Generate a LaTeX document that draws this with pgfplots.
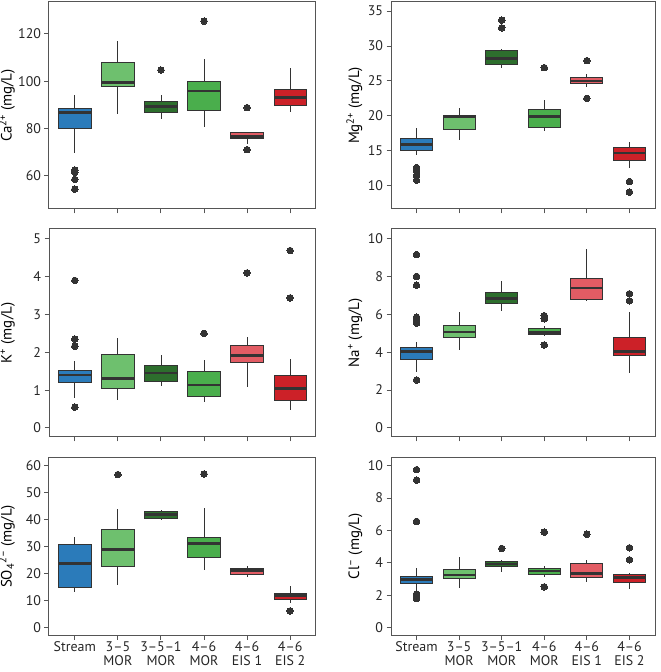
\documentclass[border=0pt]{standalone}
\usepackage{fontspec}
\setmainfont{PT Sans}
\usepackage{pgfplots}
\pgfplotsset{compat=1.18}
\usepgfplotslibrary{statistics}
\definecolor{cStream}{RGB}{43,123,186}
\definecolor{cMORa}{RGB}{110,192,110}
\definecolor{cMORb}{RGB}{45,110,45}
\definecolor{cMORc}{RGB}{74,174,76}
\definecolor{cEISa}{RGB}{226,92,100}
\definecolor{cEISb}{RGB}{204,33,40}
\definecolor{dark}{RGB}{51,51,51}
\definecolor{frame}{RGB}{85,85,85}

\pgfplotsset{
  panel/.style={
    scale only axis, anchor=south west,
    xmin=-0.6, xmax=5.6, xtick={0,...,5},
    axis line style={draw=frame, line width=1bp},
    tick style={draw=frame, line width=1bp},
    tick align=outside, major tick length=4.5bp,
    xtick pos=bottom, ytick pos=left,
    xticklabels={},
    /pgf/number format/assume math mode=true,
    tick label style={font=\fontsize{14}{15}\selectfont, text=black!85},
    ylabel style={font=\fontsize{15}{16}\selectfont, anchor=south, inner sep=0pt},
  },
  leftp/.style={panel, width=267bp, ylabel style={at={(axis description cs:-0.127,0.5)}}},
  rightp/.style={panel, width=264bp, ylabel style={at={(axis description cs:-0.108,0.5)}}},
  bottomrow/.style={
    xticklabels={Stream,{3–5\\MOR},{3–5–1\\MOR},{4–6\\MOR},{4–6\\EIS 1},{4–6\\EIS 2}},
    xticklabel style={align=center, font=\fontsize{14}{14}\selectfont, inner sep=1bp, yshift=-1bp},
  },
  bx/.style={
    draw=dark, line width=0.9bp,
    mark=*, mark size=3.3bp, mark options={fill=dark, draw=dark, line width=0bp},
    boxplot/draw direction=y,
    boxplot/box extend=0.75, boxplot/whisker extend=0,
    boxplot/every box/.style={fill=#1, draw=dark, line width=0.9bp},
    boxplot/every whisker/.style={draw=dark, line width=0.9bp},
    boxplot/every median/.style={draw=dark, line width=2.6bp},
  },
}

\begin{document}
\begin{tikzpicture}
\useasboundingbox (0,0) rectangle (661bp,672bp);

% Ca
\begin{axis}[leftp, at={(49bp,463bp)}, height=207bp,
  ymin=45.9, ymax=133.5, ytick={60,80,100,120},
  ylabel={Ca\textsuperscript{2+} (mg/L)}]
\addplot[bx=cStream, boxplot prepared={draw position=0, lower whisker=69.4, lower quartile=80, median=86.8, upper quartile=88.6, upper whisker=94.3}] coordinates {(0,62.4) (0,61.4) (0,58.4) (0,54.3)};
\addplot[bx=cMORa, boxplot prepared={draw position=1, lower whisker=86.0, lower quartile=97.9, median=99.4, upper quartile=107.8, upper whisker=117.1}] coordinates {};
\addplot[bx=cMORb, boxplot prepared={draw position=2, lower whisker=83.8, lower quartile=86.6, median=89.3, upper quartile=91.4, upper whisker=94.3}] coordinates {(2,104.7)};
\addplot[bx=cMORc, boxplot prepared={draw position=3, lower whisker=80.7, lower quartile=87.4, median=95.9, upper quartile=100, upper whisker=109.5}] coordinates {(3,125.4)};
\addplot[bx=cEISa, boxplot prepared={draw position=4, lower whisker=73.4, lower quartile=75.6, median=76.6, upper quartile=78.2, upper whisker=78.4}] coordinates {(4,88.8) (4,71.0)};
\addplot[bx=cEISb, boxplot prepared={draw position=5, lower whisker=87.1, lower quartile=89.9, median=93.0, upper quartile=96.6, upper whisker=105.4}] coordinates {};
\end{axis}

% Mg
\begin{axis}[rightp, at={(391bp,463bp)}, height=207bp,
  ymin=6.67, ymax=36.3, ytick={10,15,...,35},
  ylabel={Mg\textsuperscript{2+} (mg/L)}]
\addplot[bx=cStream, boxplot prepared={draw position=0, lower whisker=14.4, lower quartile=15.0, median=15.9, upper quartile=16.7, upper whisker=18.2}] coordinates {(0,12.6) (0,12.1) (0,11.5) (0,10.8)};
\addplot[bx=cMORa, boxplot prepared={draw position=1, lower whisker=16.5, lower quartile=18.0, median=19.9, upper quartile=20.1, upper whisker=21.1}] coordinates {};
\addplot[bx=cMORb, boxplot prepared={draw position=2, lower whisker=26.8, lower quartile=27.3, median=28.2, upper quartile=29.3, upper whisker=29.5}] coordinates {(2,33.7) (2,32.6)};
\addplot[bx=cMORc, boxplot prepared={draw position=3, lower whisker=17.8, lower quartile=18.3, median=19.9, upper quartile=20.9, upper whisker=22.3}] coordinates {(3,26.9)};
\addplot[bx=cEISa, boxplot prepared={draw position=4, lower whisker=24.1, lower quartile=24.7, median=25.0, upper quartile=25.5, upper whisker=26.0}] coordinates {(4,27.9) (4,22.5)};
\addplot[bx=cEISb, boxplot prepared={draw position=5, lower whisker=12.6, lower quartile=13.6, median=14.7, upper quartile=15.5, upper whisker=16.2}] coordinates {(5,10.6) (5,9.1)};
\end{axis}

% K
\begin{axis}[leftp, at={(49bp,235bp)}, height=208bp,
  ymin=-0.24, ymax=5.26, ytick={0,...,5},
  ylabel={K\textsuperscript{+} (mg/L)}]
\addplot[bx=cStream, boxplot prepared={draw position=0, lower whisker=0.78, lower quartile=1.19, median=1.40, upper quartile=1.53, upper whisker=1.78}] coordinates {(0,3.9) (0,2.35) (0,2.16) (0,0.55)};
\addplot[bx=cMORa, boxplot prepared={draw position=1, lower whisker=0.75, lower quartile=1.04, median=1.31, upper quartile=1.95, upper whisker=2.37}] coordinates {};
\addplot[bx=cMORb, boxplot prepared={draw position=2, lower whisker=1.11, lower quartile=1.23, median=1.45, upper quartile=1.66, upper whisker=1.92}] coordinates {};
\addplot[bx=cMORc, boxplot prepared={draw position=3, lower whisker=0.69, lower quartile=0.84, median=1.14, upper quartile=1.49, upper whisker=1.79}] coordinates {(3,2.5)};
\addplot[bx=cEISa, boxplot prepared={draw position=4, lower whisker=1.07, lower quartile=1.72, median=1.91, upper quartile=2.17, upper whisker=2.40}] coordinates {(4,4.1)};
\addplot[bx=cEISb, boxplot prepared={draw position=5, lower whisker=0.47, lower quartile=0.72, median=1.04, upper quartile=1.38, upper whisker=1.82}] coordinates {(5,4.69) (5,3.44)};
\end{axis}

% Na
\begin{axis}[rightp, at={(391bp,235bp)}, height=208bp,
  ymin=-0.48, ymax=10.5, ytick={0,2,...,10},
  ylabel={Na\textsuperscript{+} (mg/L)}]
\addplot[bx=cStream, boxplot prepared={draw position=0, lower whisker=2.97, lower quartile=3.62, median=4.03, upper quartile=4.27, upper whisker=4.56}] coordinates {(0,9.15) (0,8.0) (0,7.53) (0,5.85) (0,5.7) (0,5.53) (0,2.53)};
\addplot[bx=cMORa, boxplot prepared={draw position=1, lower whisker=4.12, lower quartile=4.77, median=5.07, upper quartile=5.41, upper whisker=6.1}] coordinates {};
\addplot[bx=cMORb, boxplot prepared={draw position=2, lower whisker=6.18, lower quartile=6.55, median=6.84, upper quartile=7.16, upper whisker=7.77}] coordinates {};
\addplot[bx=cMORc, boxplot prepared={draw position=3, lower whisker=4.88, lower quartile=4.91, median=5.05, upper quartile=5.25, upper whisker=5.39}] coordinates {(3,5.92) (3,5.76) (3,4.38)};
\addplot[bx=cEISa, boxplot prepared={draw position=4, lower whisker=6.68, lower quartile=6.78, median=7.39, upper quartile=7.88, upper whisker=9.47}] coordinates {};
\addplot[bx=cEISb, boxplot prepared={draw position=5, lower whisker=2.92, lower quartile=3.8, median=4.03, upper quartile=4.79, upper whisker=6.1}] coordinates {(5,7.08) (5,6.71)};
\end{axis}

% SO4
\begin{axis}[leftp, bottomrow, at={(49bp,37bp)}, height=177bp,
  ymin=-2.85, ymax=62.85, ytick={0,10,...,60},
  ylabel={SO\textsubscript{4}\textsuperscript{2–} (mg/L)}]
\addplot[bx=cStream, boxplot prepared={draw position=0, lower whisker=13.0, lower quartile=14.75, median=23.7, upper quartile=30.7, upper whisker=33.7}] coordinates {};
\addplot[bx=cMORa, boxplot prepared={draw position=1, lower whisker=15.7, lower quartile=22.6, median=28.9, upper quartile=36.2, upper whisker=44.0}] coordinates {(1,56.7)};
\addplot[bx=cMORb, boxplot prepared={draw position=2, lower whisker=39.8, lower quartile=40.5, median=41.8, upper quartile=42.9, upper whisker=43.6}] coordinates {};
\addplot[bx=cMORc, boxplot prepared={draw position=3, lower whisker=21.1, lower quartile=25.8, median=31.2, upper quartile=33.3, upper whisker=44.3}] coordinates {(3,56.9)};
\addplot[bx=cEISa, boxplot prepared={draw position=4, lower whisker=18.8, lower quartile=19.5, median=21.1, upper quartile=21.9, upper whisker=22.6}] coordinates {};
\addplot[bx=cEISb, boxplot prepared={draw position=5, lower whisker=8.9, lower quartile=10.4, median=11.9, upper quartile=12.5, upper whisker=15.5}] coordinates {(5,6.1)};
\end{axis}

% Cl
\begin{axis}[rightp, bottomrow, at={(391bp,37bp)}, height=177bp,
  ymin=-0.45, ymax=10.47, ytick={0,2,...,10},
  ylabel={Cl\textsuperscript{–} (mg/L)}]
\addplot[bx=cStream, boxplot prepared={draw position=0, lower whisker=2.33, lower quartile=2.74, median=2.99, upper quartile=3.15, upper whisker=3.67}] coordinates {(0,9.75) (0,9.11) (0,6.56) (0,2.08) (0,1.96) (0,1.81)};
\addplot[bx=cMORa, boxplot prepared={draw position=1, lower whisker=2.47, lower quartile=3.01, median=3.26, upper quartile=3.57, upper whisker=4.35}] coordinates {};
\addplot[bx=cMORb, boxplot prepared={draw position=2, lower whisker=3.46, lower quartile=3.75, median=3.92, upper quartile=4.06, upper whisker=4.19}] coordinates {(2,4.89)};
\addplot[bx=cMORc, boxplot prepared={draw position=3, lower whisker=3.13, lower quartile=3.26, median=3.51, upper quartile=3.67, upper whisker=3.81}] coordinates {(3,5.9) (3,2.52)};
\addplot[bx=cEISa, boxplot prepared={draw position=4, lower whisker=2.85, lower quartile=3.07, median=3.36, upper quartile=3.96, upper whisker=4.19}] coordinates {(4,5.77)};
\addplot[bx=cEISb, boxplot prepared={draw position=5, lower whisker=2.41, lower quartile=2.8, median=3.09, upper quartile=3.26, upper whisker=3.36}] coordinates {(5,4.93) (5,4.19)};
\end{axis}
\end{tikzpicture}
\end{document}
